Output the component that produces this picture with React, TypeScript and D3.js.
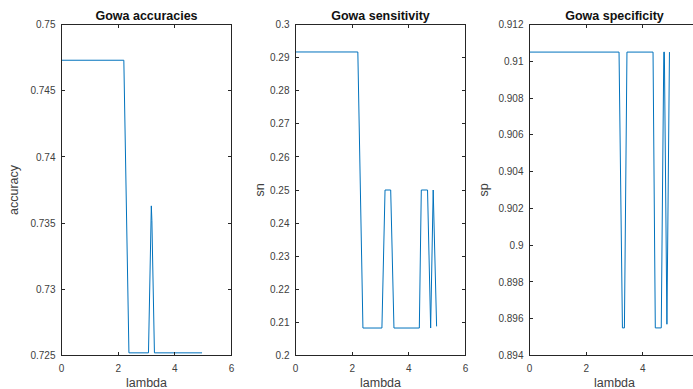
import React from "react";
import * as d3 from "d3";

// ---- data ----
const lambdaAcc = [0, 2.2, 2.38, 3.07, 3.17, 3.19, 3.28, 4.96];
const accuracy = [0.7473, 0.7473, 0.7252, 0.7252, 0.7363, 0.7352, 0.7252, 0.7252];

const lambdaSn = [0, 2.2, 2.38, 3.05, 3.16, 3.36, 3.475, 4.37, 4.44, 4.66, 4.77, 4.86, 4.98];
const sensitivity = [0.2917, 0.2917, 0.2083, 0.2083, 0.25, 0.25, 0.2083, 0.2083, 0.25, 0.25, 0.2083, 0.25, 0.2088];

const lambdaSp = [0, 3.16, 3.28, 3.35, 3.44, 4.36, 4.44, 4.65, 4.74, 4.76, 4.85, 4.94];
const specificity = [0.9105, 0.9105, 0.8955, 0.8955, 0.9105, 0.9105, 0.8955, 0.8955, 0.9105, 0.9105, 0.8957, 0.9105];

const xTicks = [0, 2, 4, 6];
const accTicks = [0.725, 0.73, 0.735, 0.74, 0.745, 0.75];
const snTicks = [0.2, 0.21, 0.22, 0.23, 0.24, 0.25, 0.26, 0.27, 0.28, 0.29, 0.3];
const spTicks = [0.894, 0.896, 0.898, 0.9, 0.902, 0.904, 0.906, 0.908, 0.91, 0.912];

const titles = ["Gowa accuracies", "Gowa sensitivity", "Gowa specificity"];
const yLabels = ["accuracy", "sn", "sp"];
const xLabel = "lambda";

const W = 693;
const H = 389;
const TOP = 24.5;
const BOTTOM = 355.5;
const AX_W = 170;
const LEFTS = [61.5, 295.5, 529.5];
const YLABEL_OFF = [43.5, 32, 41.5];
const LINE = "#0072BD";
const AXC = "#262626";
const TXT = "#404040";
const FONT = "'Liberation Sans', Arial, Helvetica, sans-serif";

type PanelProps = {
  left: number;
  xs: number[];
  ys: number[];
  yDomain: [number, number];
  yTicks: number[];
  title: string;
  yLabel: string;
  yLabelOff: number;
};

function Panel({ left, xs, ys, yDomain, yTicks, title, yLabel, yLabelOff }: PanelProps) {
  const x = d3.scaleLinear().domain([0, 6]).range([left, left + AX_W]);
  const y = d3.scaleLinear().domain(yDomain).range([BOTTOM, TOP]);
  const pts: [number, number][] = xs.map((v, i) => [v, ys[i]]);
  const line = d3
    .line<[number, number]>()
    .x((d) => x(d[0]))
    .y((d) => y(d[1]));
  const tl = 3.5;
  const right = left + AX_W;
  const cy = (TOP + BOTTOM) / 2;
  return (
    <g>
      <path d={line(pts) || ""} fill="none" stroke={LINE} strokeWidth={1} />
      {/* box */}
      <rect x={left} y={TOP} width={AX_W} height={BOTTOM - TOP} fill="none" stroke={AXC} strokeWidth={1} />
      {/* x ticks */}
      {xTicks.map((t) => {
        const px = Math.round(x(t) - 0.5) + 0.5;
        return (
          <g key={"x" + t}>
            <line x1={px} x2={px} y1={BOTTOM} y2={BOTTOM - tl} stroke={AXC} />
            <line x1={px} x2={px} y1={TOP} y2={TOP + tl} stroke={AXC} />
            {x(t) + 3 <= W ? (
              <text x={x(t)} y={372} textAnchor="middle" fontSize={10} fill={TXT} fontFamily={FONT}>
                {t}
              </text>
            ) : null}
          </g>
        );
      })}
      {/* y ticks */}
      {yTicks.map((t) => {
        const py = Math.round(y(t) - 0.5) + 0.5;
        return (
          <g key={"y" + t}>
            <line x1={left} x2={left + tl} y1={py} y2={py} stroke={AXC} />
            <line x1={right} x2={right - tl} y1={py} y2={py} stroke={AXC} />
            <text x={left - 6} y={y(t) + 3.6} textAnchor="end" fontSize={10} fill={TXT} fontFamily={FONT}>
              {String(+t.toFixed(4))}
            </text>
          </g>
        );
      })}
      <text
        x={left + AX_W / 2}
        y={19.5}
        textAnchor="middle"
        fontSize={12.5}
        fontWeight="bold"
        fill="#111"
        fontFamily={FONT}
      >
        {title}
      </text>
      <text x={left + AX_W / 2} y={387} textAnchor="middle" fontSize={12.5} fill={TXT} fontFamily={FONT}>
        {xLabel}
      </text>
      <text
        transform={`translate(${left - yLabelOff},${cy}) rotate(-90)`}
        textAnchor="middle"
        fontSize={12.5}
        fill={TXT}
        fontFamily={FONT}
      >
        {yLabel}
      </text>
    </g>
  );
}

export default function App() {
  return (
    <svg
      width={W}
      height={H}
      style={{ position: "absolute", left: 0, top: 0, background: "#fff" }}
    >
      <rect width={W} height={H} fill="#fff" />
      <Panel left={LEFTS[0]} xs={lambdaAcc} ys={accuracy} yDomain={[0.725, 0.75]} yTicks={accTicks} title={titles[0]} yLabel={yLabels[0]} yLabelOff={YLABEL_OFF[0]} />
      <Panel left={LEFTS[1]} xs={lambdaSn} ys={sensitivity} yDomain={[0.2, 0.3]} yTicks={snTicks} title={titles[1]} yLabel={yLabels[1]} yLabelOff={YLABEL_OFF[1]} />
      <Panel left={LEFTS[2]} xs={lambdaSp} ys={specificity} yDomain={[0.894, 0.912]} yTicks={spTicks} title={titles[2]} yLabel={yLabels[2]} yLabelOff={YLABEL_OFF[2]} />
    </svg>
  );
}
